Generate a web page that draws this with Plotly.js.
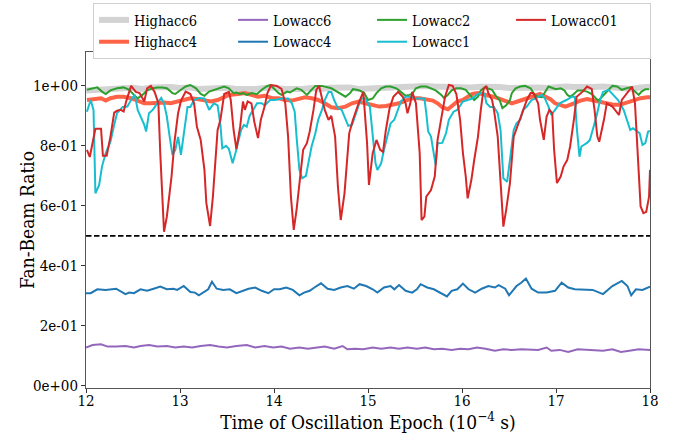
<!DOCTYPE html>
<html>
<head>
<meta charset="utf-8">
<script src="https://cdn.plot.ly/plotly-3.0.1.min.js"></script>
<style>html,body{margin:0;padding:0;background:#fff;}#chart{width:680px;height:433px;}</style>
</head>
<body>
<div id="chart"></div>
<script>
// ---------------- data ----------------
const highacc6X = [12.0,12.1,12.2,12.3,12.4,12.5,12.6,12.7,12.8,12.9,13.0,13.1,13.2,13.3,13.4,13.5,13.6,13.7,13.8,13.9,14.0,14.1,14.2,14.3,14.4,14.5,14.6,14.7,14.8,14.9,15.0,15.1,15.2,15.3,15.4,15.5,15.6,15.7,15.8,15.9,16.0,16.1,16.2,16.3,16.4,16.5,16.6,16.7,16.8,16.9,17.0,17.1,17.2,17.3,17.4,17.5,17.6,17.7,17.8,17.9,18.0];
const highacc6Y = [0.985,0.988,0.986,0.99,0.992,0.994,0.99,0.995,0.998,0.996,0.993,0.995,0.99,0.992,0.996,0.994,0.99,0.988,0.99,0.993,0.995,0.99,0.988,0.99,0.993,0.99,0.994,0.997,0.995,0.99,0.992,0.995,0.997,0.998,0.996,0.998,1.0,0.998,0.996,0.998,0.997,0.995,0.997,0.999,0.996,0.993,0.995,0.997,0.995,0.993,0.996,0.998,0.996,0.994,0.996,0.998,0.996,0.993,0.99,0.995,0.997];

const highacc4X = [12.01,12.09,12.16,12.21,12.26,12.33,12.40,12.48,12.55,12.62,12.69,12.76,12.83,12.90,12.97,13.04,13.11,13.18,13.26,13.33,13.40,13.47,13.52,13.62,13.69,13.76,13.83,13.90,13.98,14.05,14.12,14.19,14.26,14.33,14.40,14.47,14.54,14.61,14.68,14.76,14.83,14.90,14.97,15.05,15.12,15.19,15.26,15.33,15.40,15.48,15.55,15.62,15.69,15.74,15.79,15.85,15.90,15.95,16.01,16.06,16.11,16.17,16.22,16.27,16.33,16.38,16.43,16.49,16.53,16.59,16.66,16.73,16.78,16.83,16.89,16.94,16.99,17.05,17.10,17.15,17.21,17.26,17.33,17.40,17.47,17.54,17.61,17.68,17.76,17.83,17.90,17.97,18.00];
const highacc4Y = [0.953,0.956,0.959,0.951,0.959,0.964,0.964,0.959,0.951,0.942,0.942,0.945,0.945,0.942,0.948,0.956,0.959,0.956,0.951,0.948,0.953,0.964,0.97,0.973,0.976,0.97,0.964,0.967,0.959,0.959,0.953,0.951,0.956,0.962,0.959,0.953,0.942,0.929,0.926,0.931,0.942,0.948,0.942,0.937,0.931,0.933,0.937,0.942,0.951,0.959,0.959,0.956,0.951,0.942,0.929,0.922,0.937,0.948,0.953,0.964,0.973,0.976,0.973,0.97,0.964,0.959,0.953,0.948,0.942,0.948,0.956,0.964,0.967,0.973,0.964,0.956,0.942,0.937,0.931,0.937,0.945,0.951,0.956,0.951,0.948,0.942,0.937,0.937,0.945,0.951,0.959,0.962,0.962];

const lowacc6X = [12.0,12.07,12.16,12.23,12.32,12.42,12.51,12.58,12.67,12.76,12.86,12.95,13.04,13.13,13.22,13.32,13.41,13.5,13.6,13.71,13.8,13.9,13.99,14.08,14.17,14.27,14.36,14.45,14.54,14.64,14.73,14.78,14.86,14.95,15.05,15.14,15.24,15.33,15.42,15.52,15.61,15.7,15.79,15.89,15.98,16.07,16.16,16.25,16.35,16.44,16.53,16.63,16.72,16.81,16.9,16.95,17.04,17.13,17.23,17.32,17.42,17.5,17.6,17.69,17.78,17.88,18.0];
const lowacc6Y = [0.128,0.136,0.139,0.131,0.131,0.133,0.128,0.133,0.136,0.131,0.133,0.128,0.131,0.128,0.133,0.136,0.131,0.128,0.133,0.136,0.128,0.133,0.128,0.131,0.124,0.128,0.124,0.128,0.131,0.124,0.133,0.122,0.124,0.122,0.128,0.124,0.128,0.124,0.128,0.124,0.128,0.122,0.124,0.12,0.124,0.122,0.128,0.124,0.117,0.122,0.12,0.122,0.122,0.12,0.128,0.117,0.12,0.113,0.122,0.12,0.117,0.117,0.122,0.113,0.117,0.122,0.12];

const lowacc4X = [12.0,12.05,12.12,12.21,12.32,12.42,12.46,12.51,12.58,12.65,12.72,12.79,12.86,12.93,12.97,13.04,13.11,13.16,13.2,13.25,13.3,13.34,13.39,13.46,13.53,13.6,13.67,13.73,13.8,13.87,13.94,14.0,14.06,14.13,14.2,14.27,14.32,14.38,14.43,14.5,14.57,14.64,14.71,14.78,14.85,14.91,14.98,15.05,15.1,15.17,15.24,15.28,15.33,15.4,15.47,15.52,15.56,15.63,15.7,15.77,15.84,15.89,15.95,16.01,16.07,16.14,16.21,16.28,16.35,16.39,16.46,16.5,16.58,16.63,16.68,16.74,16.81,16.9,16.99,17.06,17.13,17.2,17.3,17.39,17.5,17.6,17.7,17.76,17.8,17.85,17.92,18.0];
const lowacc4Y = [0.309,0.309,0.322,0.32,0.324,0.306,0.311,0.309,0.322,0.317,0.324,0.331,0.322,0.324,0.32,0.333,0.313,0.311,0.302,0.313,0.322,0.347,0.324,0.32,0.322,0.309,0.317,0.324,0.328,0.317,0.309,0.322,0.322,0.328,0.32,0.302,0.311,0.317,0.328,0.342,0.324,0.32,0.328,0.333,0.324,0.339,0.333,0.322,0.311,0.328,0.333,0.322,0.336,0.317,0.311,0.322,0.339,0.328,0.322,0.311,0.298,0.317,0.322,0.341,0.322,0.311,0.324,0.333,0.328,0.336,0.324,0.302,0.333,0.344,0.358,0.324,0.311,0.311,0.317,0.344,0.328,0.322,0.322,0.32,0.306,0.333,0.35,0.333,0.302,0.322,0.32,0.331];

const lowacc2X = [12.01,12.07,12.12,12.17,12.21,12.26,12.33,12.40,12.46,12.51,12.55,12.60,12.65,12.71,12.76,12.81,12.86,12.92,12.95,13.01,13.06,13.11,13.17,13.22,13.26,13.31,13.36,13.41,13.47,13.52,13.57,13.60,13.64,13.67,13.71,13.76,13.82,13.87,13.92,13.96,14.01,14.05,14.08,14.14,14.17,14.21,14.24,14.29,14.35,14.40,14.44,14.51,14.56,14.61,14.67,14.72,14.76,14.81,14.84,14.88,14.91,14.96,15.00,15.05,15.09,15.14,15.19,15.24,15.30,15.33,15.37,15.40,15.44,15.47,15.51,15.56,15.62,15.67,15.72,15.78,15.81,15.85,15.89,15.94,15.99,16.04,16.10,16.13,16.17,16.20,16.24,16.28,16.32,16.36,16.40,16.43,16.47,16.51,16.53,16.57,16.62,16.67,16.73,16.76,16.80,16.85,16.89,16.92,16.97,17.00,17.05,17.09,17.12,17.15,17.19,17.23,17.28,17.33,17.38,17.42,17.45,17.49,17.54,17.60,17.65,17.70,17.75,17.79,17.84,17.88,17.91,17.95,17.99];
const lowacc2Y = [0.987,0.992,0.995,0.981,0.973,0.985,0.992,0.995,0.987,0.97,0.959,0.97,0.985,0.992,0.995,0.995,0.992,0.976,0.973,0.987,0.998,1.003,0.992,0.973,0.967,0.981,0.987,0.992,0.998,0.992,0.976,0.978,0.973,0.976,0.97,0.976,0.973,0.987,0.998,1.003,0.987,0.976,0.97,0.981,0.978,0.987,0.992,0.987,0.97,0.987,1.0,1.0,0.995,0.992,0.981,0.97,0.964,0.976,0.989,0.987,0.985,0.976,0.953,0.958,0.976,0.992,0.998,0.998,0.992,0.985,0.973,0.967,0.97,0.973,0.992,0.998,0.998,0.992,0.985,0.97,0.959,0.97,0.985,0.992,0.992,0.987,0.964,0.953,0.964,0.985,0.995,0.992,0.987,0.967,0.953,0.926,0.935,0.953,0.976,0.992,0.998,1.0,0.992,0.976,0.964,0.962,0.981,0.998,0.992,0.989,0.992,0.985,0.97,0.964,0.973,0.985,0.985,0.981,0.973,0.959,0.951,0.964,0.981,1.0,0.998,0.987,0.992,0.995,0.981,0.97,0.981,0.989,0.989];

const lowacc1X = [12.01,12.05,12.08,12.10,12.14,12.17,12.21,12.26,12.30,12.33,12.39,12.44,12.49,12.52,12.55,12.58,12.62,12.64,12.67,12.71,12.76,12.80,12.83,12.86,12.89,12.92,12.95,12.98,13.01,13.05,13.08,13.11,13.15,13.20,13.26,13.31,13.36,13.40,13.43,13.45,13.49,13.52,13.56,13.59,13.62,13.65,13.68,13.71,13.74,13.78,13.82,13.87,13.90,13.96,14.01,14.08,14.15,14.19,14.22,14.24,14.27,14.30,14.34,14.37,14.40,14.44,14.47,14.51,14.54,14.58,14.61,14.64,14.68,14.72,14.76,14.79,14.83,14.86,14.90,14.93,14.97,15.02,15.05,15.08,15.10,15.14,15.17,15.21,15.24,15.28,15.32,15.35,15.40,15.46,15.51,15.56,15.60,15.62,15.64,15.67,15.69,15.72,15.74,15.79,15.83,15.86,15.91,15.95,16.01,16.06,16.11,16.17,16.20,16.24,16.26,16.30,16.34,16.38,16.41,16.44,16.48,16.51,16.55,16.58,16.62,16.65,16.69,16.74,16.79,16.85,16.88,16.92,16.95,16.99,17.04,17.11,17.17,17.20,17.22,17.25,17.27,17.33,17.36,17.40,17.43,17.47,17.50,17.56,17.61,17.66,17.72,17.75,17.79,17.82,17.86,17.89,17.92,17.95,17.98,18.00];
const lowacc1Y = [0.914,0.953,0.92,0.642,0.67,0.731,0.776,0.814,0.87,0.909,0.93,0.931,0.959,0.97,0.92,0.9,0.87,0.848,0.909,0.92,0.942,0.96,0.942,0.898,0.831,0.77,0.787,0.83,0.77,0.87,0.93,0.93,0.953,0.96,0.958,0.92,0.942,0.935,0.87,0.792,0.8,0.79,0.742,0.776,0.82,0.853,0.87,0.864,0.9,0.92,0.942,0.942,0.935,0.953,0.953,0.958,0.958,0.942,0.914,0.831,0.72,0.692,0.7,0.75,0.798,0.842,0.887,0.92,0.953,0.98,0.98,0.953,0.926,0.92,0.887,0.867,0.87,0.9,0.935,0.958,0.958,0.93,0.831,0.742,0.72,0.742,0.787,0.842,0.875,0.887,0.92,0.948,0.964,0.964,0.958,0.958,0.958,0.909,0.848,0.831,0.787,0.736,0.809,0.81,0.842,0.887,0.914,0.92,0.948,0.953,0.958,0.973,0.976,0.973,0.942,0.93,0.93,0.909,0.853,0.692,0.68,0.753,0.853,0.875,0.887,0.92,0.931,0.953,0.959,0.97,0.959,0.931,0.903,0.92,0.942,0.953,0.964,0.964,0.864,0.764,0.798,0.81,0.82,0.864,0.898,0.953,0.98,0.987,0.97,0.953,0.92,0.892,0.853,0.859,0.848,0.842,0.803,0.809,0.848,0.85];

const lowacc01X = [12.01,12.04,12.10,12.16,12.18,12.22,12.26,12.30,12.33,12.37,12.40,12.43,12.48,12.53,12.57,12.62,12.65,12.69,12.73,12.77,12.79,12.83,12.86,12.91,12.94,12.98,13.01,13.06,13.11,13.15,13.18,13.22,13.26,13.28,13.32,13.35,13.40,13.43,13.47,13.52,13.54,13.57,13.60,13.64,13.67,13.69,13.72,13.76,13.79,13.83,13.86,13.90,13.93,13.97,14.03,14.08,14.12,14.15,14.18,14.21,14.24,14.28,14.31,14.35,14.38,14.42,14.45,14.48,14.51,14.54,14.58,14.61,14.65,14.68,14.71,14.75,14.80,14.84,14.90,14.95,14.99,15.01,15.05,15.09,15.13,15.16,15.19,15.23,15.27,15.32,15.37,15.40,15.42,15.45,15.47,15.51,15.55,15.57,15.60,15.62,15.67,15.71,15.74,15.78,15.82,15.86,15.90,15.94,15.98,16.01,16.04,16.06,16.10,16.13,16.17,16.20,16.23,16.26,16.28,16.32,16.34,16.38,16.41,16.44,16.47,16.51,16.55,16.59,16.64,16.69,16.73,16.76,16.81,16.83,16.87,16.90,16.93,16.96,16.98,17.01,17.05,17.08,17.12,17.15,17.19,17.22,17.28,17.33,17.38,17.41,17.44,17.46,17.51,17.54,17.60,17.63,17.67,17.70,17.76,17.81,17.84,17.87,17.90,17.93,17.96,17.99,18.00];
const lowacc01Y = [0.787,0.763,0.857,0.857,0.767,0.767,0.831,0.911,0.917,0.92,0.915,0.951,1.0,0.98,0.976,0.948,0.992,1.0,0.98,0.942,0.776,0.514,0.564,0.698,0.81,0.91,0.95,0.981,0.973,0.942,0.864,0.82,0.72,0.61,0.533,0.631,0.853,0.887,0.973,0.98,0.953,0.853,0.789,0.864,0.948,0.92,0.948,0.942,0.881,0.826,0.887,0.931,0.976,1.003,1.0,0.99,0.942,0.831,0.631,0.52,0.587,0.698,0.787,0.809,0.848,0.92,0.987,1.0,0.959,0.92,0.887,0.9,0.831,0.664,0.553,0.642,0.842,0.887,0.942,0.98,0.81,0.67,0.776,0.82,0.787,0.78,0.853,0.926,0.964,0.98,0.964,0.942,0.909,0.942,0.98,0.942,0.776,0.553,0.564,0.631,0.653,0.698,0.82,0.887,0.964,1.003,1.0,0.973,0.887,0.776,0.698,0.625,0.687,0.753,0.831,0.92,0.99,1.0,0.976,0.953,0.92,0.831,0.698,0.531,0.587,0.676,0.831,0.864,0.909,0.953,0.976,0.976,0.942,0.887,0.82,0.898,0.92,0.909,0.787,0.676,0.698,0.731,0.753,0.798,0.887,0.964,0.98,0.998,0.99,0.92,0.831,0.814,0.887,0.942,0.931,0.92,0.903,0.953,0.976,0.998,0.942,0.776,0.598,0.576,0.58,0.631,0.72];

const thresholdY = 0.5;
const yTickVals = [0, 0.2, 0.4, 0.6, 0.8, 1.0];
const yTickText = ["0e+00", "2e-01", "4e-01", "6e-01", "8e-01", "1e+00"];
const xTickVals = [12, 13, 14, 15, 16, 17, 18];

// ---------------- chart ----------------
const FONT = "'DejaVu Serif Condensed', 'Liberation Serif', serif";

function tr(name, x, y, color, width, rank) {
  return { type: 'scatter', mode: 'lines', name: name, x: x, y: y,
           line: { color: color, width: width }, legendrank: rank, hoverinfo: 'skip' };
}

const traces = [
  tr('Highacc6', highacc6X, highacc6Y, '#d3d3d3', 6, 1),
  tr('Highacc4', highacc4X, highacc4Y, '#ff6347', 4, 5),
  tr('Lowacc6', lowacc6X, lowacc6Y, '#9467bd', 2, 2),
  tr('Lowacc4', lowacc4X, lowacc4Y, '#1f77b4', 2, 6),
  tr('Lowacc2', lowacc2X, lowacc2Y, '#2ca02c', 2, 3),
  tr('Lowacc1', lowacc1X, lowacc1Y, '#17becf', 2, 7),
  tr('Lowacc01', lowacc01X, lowacc01Y, '#d62728', 2, 4)
];

const layout = {
  width: 680, height: 433,
  margin: { l: 86, r: 30, t: 52, b: 45, autoexpand: false },
  paper_bgcolor: '#fff', plot_bgcolor: '#fff',
  font: { family: FONT, size: 15, color: '#000' },
  showlegend: true,
  legend: {
    orientation: 'h', x: 0.0125, xanchor: 'left', y: 1.146, yanchor: 'top',
    entrywidth: 94, entrywidthmode: 'pixels',
    bordercolor: '#d0d0d0', borderwidth: 1, bgcolor: '#fff',
    font: { family: FONT, size: 14.5 }, tracegroupgap: 0, itemwidth: 30
  },
  xaxis: {
    range: [12, 18], tickvals: xTickVals, ticks: 'outside', ticklen: 4, tickcolor: '#333',
    showline: true, linecolor: '#555', linewidth: 1, mirror: true, showgrid: false, zeroline: false,
    automargin: false, ticklabelstandoff: -5,
    tickfont: { family: FONT, size: 15 },
    title: { text: 'Time of Oscillation Epoch (10<sup>−4</sup> s)', font: { family: FONT, size: 19 } }
  },
  yaxis: {
    range: [-0.007, 1.113], tickvals: yTickVals, ticktext: yTickText, ticks: 'outside', ticklen: 4, tickcolor: '#333',
    showline: true, linecolor: '#555', linewidth: 1, mirror: true, showgrid: false, zeroline: false,
    automargin: false,
    tickfont: { family: FONT, size: 15 },
    title: { text: 'Fan-Beam Ratio', font: { family: FONT, size: 19 } }
  },
  shapes: [{
    type: 'line', xref: 'paper', x0: 0, x1: 1, yref: 'y', y0: thresholdY, y1: thresholdY,
    line: { color: '#000', width: 1.6, dash: '5.5px,2.5px' }
  }]
};

Plotly.newPlot('chart', traces, layout, { staticPlot: true, displayModeBar: false });
</script>
</body>
</html>
